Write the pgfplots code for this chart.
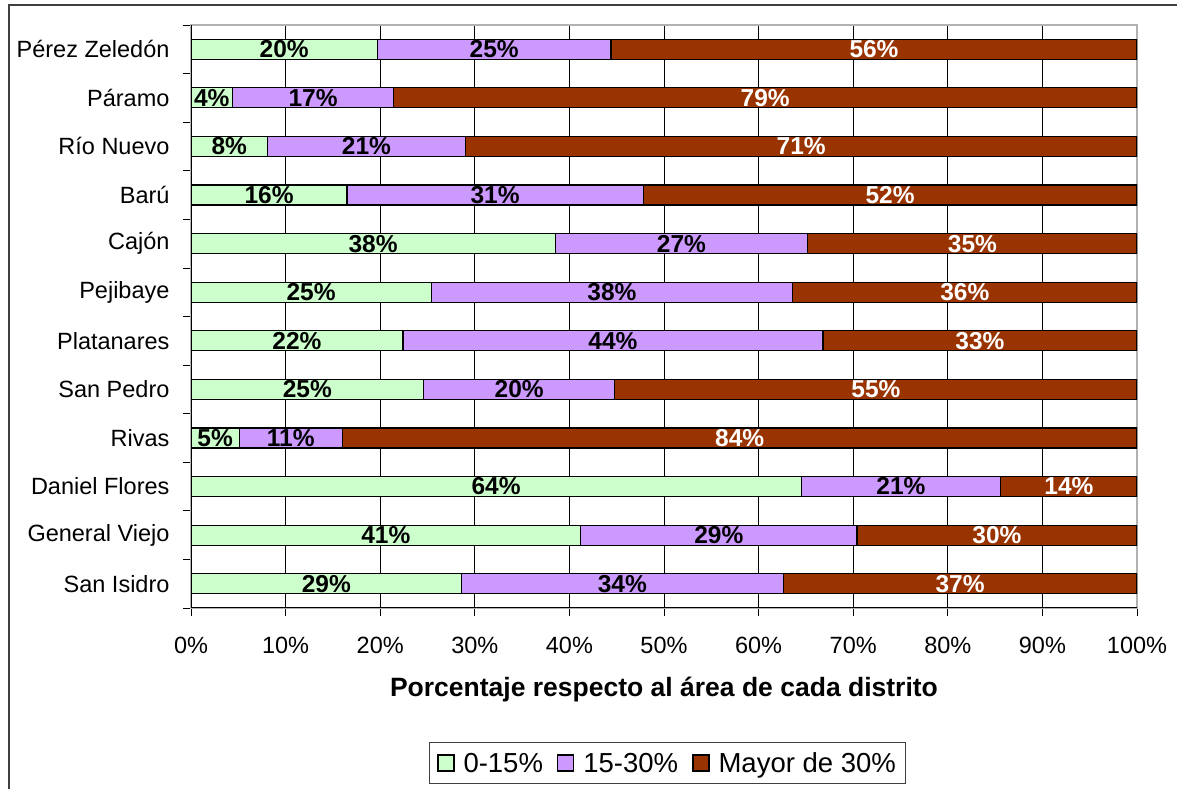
\documentclass[border=0pt]{standalone}
\usepackage{pgfplots}
\usepackage{pgfplotstable}
\pgfplotsset{compat=1.18}
\usepackage{fontspec}
\setmainfont{Liberation Sans}
\definecolor{cA}{HTML}{CCFFCC}
\definecolor{cB}{HTML}{CC99FF}
\definecolor{cC}{HTML}{993300}
\definecolor{framecol}{HTML}{404040}

\pgfplotstableread{
y a b c la lb lc
1 28.6 34.0 37.4 29 34 37
2 41.2 29.2 29.6 41 29 30
3 64.5 21.1 14.4 64 21 14
4 5.1 10.9 84.0 5 11 84
5 24.6 20.2 55.2 25 20 55
6 22.4 44.4 33.2 22 44 33
7 25.4 38.2 36.4 25 38 36
8 38.5 26.7 34.8 38 27 35
9 16.5 31.3 52.2 16 31 52
10 8.1 20.9 71.0 8 21 71
11 4.4 17.0 78.6 4 17 79
12 19.7 24.7 55.6 20 25 56
}\datatable

\pgfplotsset{
  sqlegend/.style={legend image code/.code={\draw[##1,draw=black,line width=1.4pt] (0pt,-8pt) rectangle (16pt,8pt);}},
}

\begin{document}
\begin{tikzpicture}
\useasboundingbox (0,0) rectangle (1177pt,789pt);
\fill[white] (0,0) rectangle (1177pt,789pt);
\draw[framecol, line width=2pt] (9pt,-5pt) -- (9pt,784pt) -- (1185pt,784pt);
\begin{axis}[
  at={(191pt,181pt)}, anchor=south west,
  scale only axis, width=946pt, height=583pt,
  xbar stacked, bar width=20pt,
  xmin=0, xmax=100, ymin=0.5, ymax=12.5,
  enlargelimits=false,
  xtick={0,10,20,30,40,50,60,70,80,90,100},
  xticklabels={0\%,10\%,20\%,30\%,40\%,50\%,60\%,70\%,80\%,90\%,100\%},
  ytick={0.5,1.5,2.5,3.5,4.5,5.5,6.5,7.5,8.5,9.5,10.5,11.5,12.5},
  yticklabels={San Isidro,General Viejo,Daniel Flores,Rivas,San Pedro,Platanares,Pejibaye,Cajón,Barú,Río Nuevo,Páramo,Pérez Zeledón,{}},
  yticklabel style={yshift=24.3pt, xshift=-10pt},
  xticklabel style={yshift=-18pt},
  tick label style={font=\fontsize{23.5}{28}\selectfont, black},
  tick align=outside, major tick length=8pt,
  tick style={black, line width=0.8pt},
  tick pos=left,
  axis line style={draw=gray!60, line width=1.2pt},
  xmajorgrids, grid style={black, line width=0.8pt},
  xlabel={\bfseries Porcentaje respecto al área de cada distrito},
  xlabel style={at={(rel axis cs:0.5,-0.1407)}, anchor=center, font=\fontsize{26.5}{31}\selectfont},
  legend columns=3,
  legend style={at={(rel axis cs:0.5037,-0.2298)}, anchor=north, draw=framecol, line width=1pt,
    font=\fontsize{27.5}{32}\selectfont, inner ysep=8pt, inner xsep=8pt,
    /tikz/every odd column/.append style={column sep=7pt},
    /tikz/every even column/.append style={column sep=12pt}},
]
\addplot[fill=cA, draw=black, line width=1.2pt, sqlegend,
  point meta=explicit symbolic,
  nodes near coords={\pgfplotspointmeta\%},
  every node near coord/.append style={font=\bfseries\fontsize{24.5}{28}\selectfont, black, anchor=center}]
  table[x=a, y=y, meta=la] {\datatable};
\addplot[fill=cB, draw=black, line width=1.2pt, sqlegend,
  point meta=explicit symbolic,
  nodes near coords={\pgfplotspointmeta\%},
  every node near coord/.append style={font=\bfseries\fontsize{24.5}{28}\selectfont, black, anchor=center}]
  table[x=b, y=y, meta=lb] {\datatable};
\addplot[fill=cC, draw=black, line width=1.2pt, sqlegend,
  point meta=explicit symbolic,
  nodes near coords={\pgfplotspointmeta\%},
  every node near coord/.append style={font=\bfseries\fontsize{24.5}{28}\selectfont, white, anchor=center}]
  table[x=c, y=y, meta=lc] {\datatable};
\legend{0-15\%, 15-30\%, Mayor de 30\%}
\draw[black, line width=1.2pt] (rel axis cs:0,1) -- (rel axis cs:0,0) -- (rel axis cs:1,0);
\end{axis}
\end{tikzpicture}
\end{document}
